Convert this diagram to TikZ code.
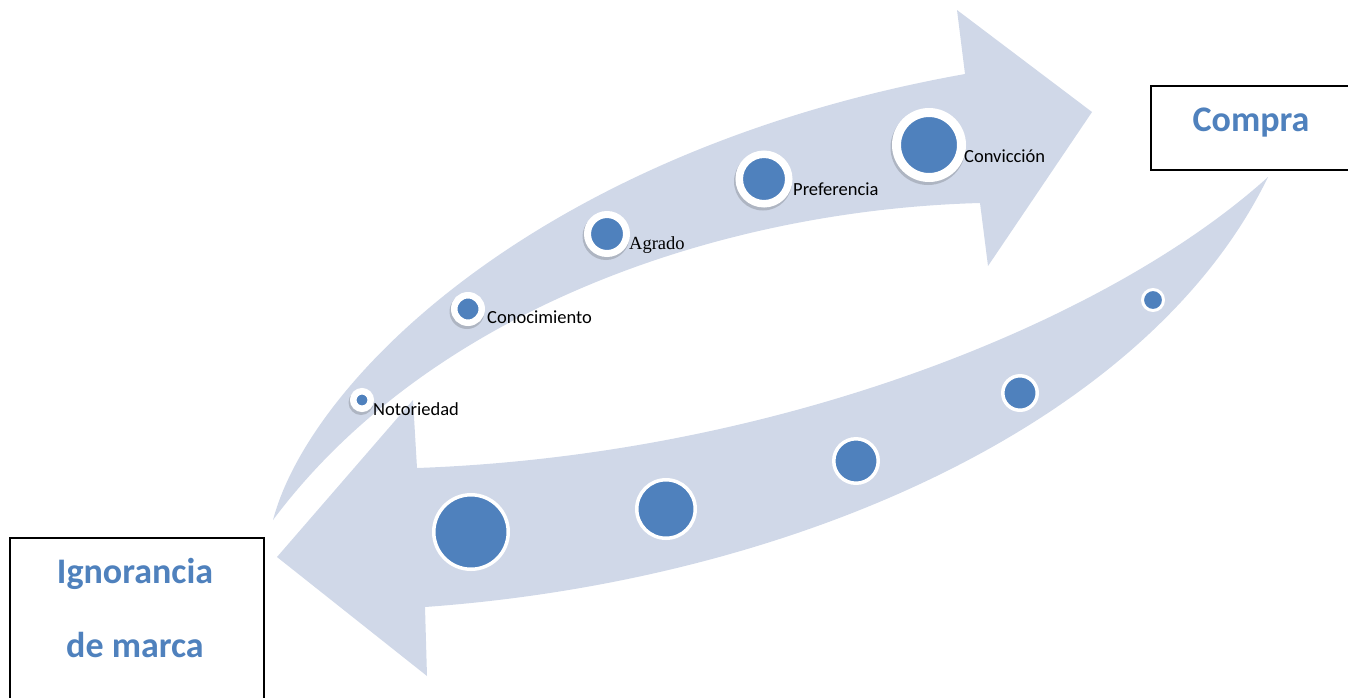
\documentclass[tikz,border=0pt]{standalone}
\usepackage{fontspec}
\setmainfont{Carlito}
\newfontfamily\timesfont{Liberation Serif}
\definecolor{beadblue}{HTML}{4F81BD}
\definecolor{bandfill}{HTML}{D0D8E8}
\begin{document}
\begin{tikzpicture}[x=1pt,y=-1pt,
  band/.style={fill=bandfill,draw=none},
  bead/.style 2 args={circle,inner sep=0pt,fill=beadblue,draw=white,line width=#1pt,minimum size=#2pt},
  beadshadow/.style={fill=black,opacity=0.16},
  lbl/.style={font=\fontsize{18.5}{20}\selectfont,text=black,inner sep=0pt,anchor=base west},
  frame/.style={draw=black,line width=1.6pt,fill=white,inner sep=0pt,anchor=north west},
  boxtxt/.style={font=\fontsize{36}{40}\bfseries\selectfont,text=beadblue,inner sep=0pt,anchor=base}]
\useasboundingbox (0,0) rectangle (1348,697);
\clip (0,0) rectangle (1348,697);

% lower band, pointing back to the left
\fill[band] (1268,177) .. controls (1150,420) and (800,580) .. (425,607)
  -- (427,676) -- (277,557) -- (413,400) -- (417,468)
  .. controls (780,455) and (1110,320) .. (1268,177) -- cycle;

% upper band, pointing to the right
\fill[band] (273,520) .. controls (310,380) and (540,150) .. (965,74)
  -- (957,10) -- (1092,112) -- (988,266) -- (980,203)
  .. controls (720,210) and (430,310) .. (273,520) -- cycle;

% soft shadows under the upper beads
\fill[beadshadow] (361,402.5) circle[radius=12.5];
\fill[beadshadow] (467,311.5) circle[radius=17.5];
\fill[beadshadow] (606,236.5) circle[radius=23.5];
\fill[beadshadow] (763,181.5) circle[radius=29];
\fill[beadshadow] (928,147.5) circle[radius=37.5];

% upper beads
\node[bead={6.5}{17.5}] (b1) at (362,400) {};
\node[bead={6.5}{27.5}] (b2) at (468,309) {};
\node[bead={7}{39}]     (b3) at (607,234) {};
\node[bead={7.5}{49.5}] (b4) at (764,179) {};
\node[bead={9}{65}]     (b5) at (929,145) {};

% lower beads
\node[bead={3}{21}]     (r1) at (1153,300) {};
\node[bead={3.5}{34.5}] (r2) at (1020,393) {};
\node[bead={3.5}{44.5}] (r3) at (856,461) {};
\node[bead={3.5}{58.5}] (r4) at (666,509) {};
\node[bead={3.5}{74.5}] (r5) at (471,532) {};

% stage labels
\node[lbl] (t1) at (373,415) {Notoriedad};
\node[lbl] (t2) at (487,323) {Conocimiento};
\node[lbl,font=\timesfont\fontsize{18.5}{20}\selectfont] (t3) at (629,249) {Agrado};
\node[lbl] (t4) at (793,195) {Preferencia};
\node[lbl] (t5) at (964,162) {Convicción};

% end boxes
\node[frame,minimum width=215pt,minimum height=84pt] (compra) at (1150,85) {};
\node[boxtxt] (compraTxt) at (1251,131) {Compra};
\node[frame,minimum width=254pt,minimum height=175pt] (ignor) at (9,537) {};
\node[boxtxt] (ignorA) at (135,583) {Ignorancia};
\node[boxtxt] (ignorB) at (135,657) {de marca};
\end{tikzpicture}
\end{document}
